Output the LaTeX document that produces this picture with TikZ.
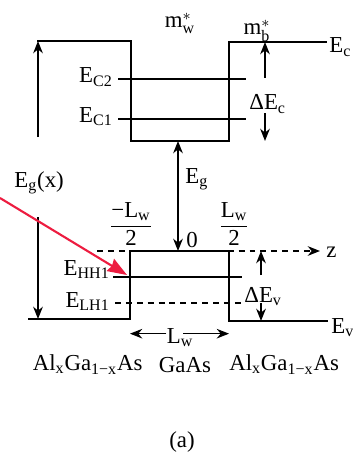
\documentclass[tikz,border=0pt]{standalone}
\usepackage{fontspec}
\setmainfont{Liberation Serif}
\usepackage{amsmath}
\definecolor{hotred}{RGB}{237,28,64}
\usetikzlibrary{calc, positioning, arrows.meta}
\newcommand{\starsub}[1]{$\text{m}^{*}_{\text{#1}}$}
\begin{document}
\begin{tikzpicture}[
    x=0.02cm, y=-0.02cm,
    band/.style={line width=1pt},
    level/.style={line width=0.7pt},
    dimarrow/.style={line width=0.8pt, -{Stealth[length=7pt, width=5.5pt]}},
    lbl/.style={inner sep=0pt, font=\fontsize{13}{15}\selectfont},
    axisline/.style={line width=0.8pt, dash pattern=on 3.4pt off 2.8pt},
    node distance=9pt,
  ]
    \useasboundingbox (0,0) rectangle (352,456);
    % band edges
    \coordinate (cb1) at (37,41);   \coordinate (cb2) at (131,41);
    \coordinate (cb3) at (131,141); \coordinate (cb4) at (229,141);
    \coordinate (cb5) at (229,42);  \coordinate (cb6) at (327,42);
    \coordinate (vb1) at (28,319);  \coordinate (vb2) at (130,319);
    \coordinate (vb3) at (130,251); \coordinate (vb4) at (229,251);
    \coordinate (vb5) at (229,321); \coordinate (vb6) at (328,321);
    \draw[axisline, -{Stealth[length=7pt, width=5.5pt]}] (97,251) coordinate (zstart) -- (320,251) coordinate (zend);
    \draw[band] (cb1) -- (cb2) -- (cb3) -- (cb4) -- (cb5) -- (cb6);
    \draw[band] (vb1) -- (vb2) -- (vb3) -- (vb4) -- (vb5) -- (vb6);
    % quantized levels
    \coordinate (c2a) at (118,79);  \coordinate (c2b) at (246,79);
    \coordinate (c1a) at (118,119); \coordinate (c1b) at (246,119);
    \coordinate (hh1a) at (113,277); \coordinate (hh1b) at (242,277);
    \coordinate (lh1a) at (115,303); \coordinate (lh1b) at (242,303);
    \draw[level] (c2a) -- (c2b);
    \draw[level] (c1a) -- (c1b);
    \draw[level] (hh1a) -- (hh1b);
    \draw[level, dash pattern=on 3.4pt off 2.8pt] (lh1a) -- (lh1b);
    \node[lbl, anchor=base east] (ec2) at (113,83) {E\textsubscript{C2}};
    \node[lbl, anchor=base east] (ec1) at (113,122) {E\textsubscript{C1}};
    \node[lbl, anchor=base east] (ehh1) at (110,275) {E\textsubscript{HH1}};
    \node[lbl, anchor=base east] (elh1) at (110,307) {E\textsubscript{LH1}};
    % labels
    \node[lbl, anchor=base] (mw) at (180,28) {\starsub{w}};
    \node[lbl, anchor=base] (mb) at (257,35) {\starsub{b}};
    \node[lbl, anchor=base west] (ec) at (329,53) {E\textsubscript{c}};
    \node[lbl, anchor=base west] (ev) at (331,333) {E\textsubscript{v}};
    \node[lbl, anchor=base west] (z) at (326,257) {z};
    \node[lbl, anchor=base west] (egx) at (14,187) {E\textsubscript{g}(x)};
    \node[lbl, anchor=base west] (eg) at (185,183) {E\textsubscript{g}};
    \node[lbl, anchor=base] (zero) at (192,247) {0};
    \node[lbl] (lwl) at (131,224) {$\dfrac{\text{−L}_{\text{w}}}{\text{2}}$};
    \node[lbl] (lwr) at (234,224) {$\dfrac{\text{L}_{\text{w}}}{\text{2}}$};
    \node[lbl, anchor=base west] (dec) at (249,110) {ΔE\textsubscript{c}};
    \node[lbl, anchor=base west] (dev) at (244,302) {ΔE\textsubscript{v}};
    \node[lbl, anchor=base] (lw) at (180,343) {L\textsubscript{w}};
    % dimensions
    \coordinate (egxup) at (38,137);
    \coordinate (egxdown) at (38,217);
    \draw[dimarrow] (egxup) -- (cb1 -| egxup);
    \draw[dimarrow] (egxdown) -- (vb1 -| egxdown);
    \draw[dimarrow, {Stealth[length=7pt, width=5.5pt]}-{Stealth[length=7pt, width=5.5pt]}] (178,141) coordinate (egtop) -- (178,251) coordinate (egbot);
    \coordinate (decup) at (265,78);
    \coordinate (decdown) at (265,113);
    \draw[dimarrow] (decup) -- (decup |- cb6);
    \draw[dimarrow] (decdown) -- (decdown |- cb4);
    \coordinate (devup) at (261,275);
    \coordinate (devdown) at (261,303);
    \draw[dimarrow] (devup) -- (devup |- vb4);
    \draw[dimarrow] (devdown) -- (devdown |- vb6);
    \draw[dimarrow] ([yshift=2pt]lw.west) -- ([yshift=2pt]lw.west -| vb2);
    \draw[dimarrow] ([xshift=-6pt, yshift=2pt]lw.east) -- ([yshift=2pt]lw.east -| vb5);
    % materials
    \node[lbl, anchor=base] (gaas) at (185,372) {GaAs};
    \node[lbl, left=9pt of gaas] (algal) {Al\textsubscript{x}Ga\textsubscript{1−x}As};
    \node[lbl, right=10pt of gaas] (algar) {Al\textsubscript{x}Ga\textsubscript{1−x}As};
    \node[lbl, anchor=base] (caption) at (182,447) {(a)};
    % pointer
    \coordinate (redtail) at (0,198);
    \coordinate (redtip) at (127,275);
    \draw[hotred, line width=1.2pt, -{Stealth[length=11pt, width=8pt, inset=1pt]}] (redtail) -- (redtip);
  \end{tikzpicture}
\end{document}
